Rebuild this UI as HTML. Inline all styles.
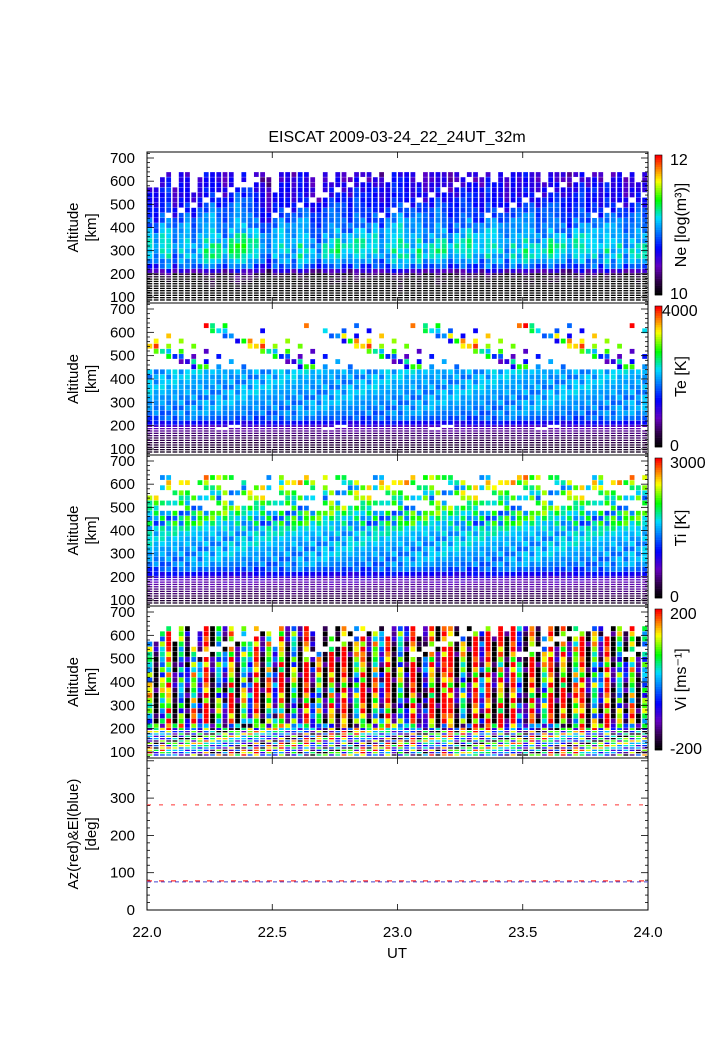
<!DOCTYPE html>
<html><head><meta charset="utf-8"><style>
html,body{margin:0;padding:0;background:#fff;}
svg{display:block;font-family:"Liberation Sans",Arial,sans-serif;}
</style></head><body>
<svg id="fig" width="708" height="1063" viewBox="0 0 708 1063">
<text x="397" y="142" font-size="16" text-anchor="middle">EISCAT 2009-03-24_22_24UT_32m</text>
</svg>
<script>
// ---- data arrays ----
const timeStart = 22.0, timeEnd = 24.0;
const nCols = 80;
const gateAlts = [85,95,105,115,125,135,145,155,165,175,185,195,210,232,254,276,298,320,342,364,386,408,430,452,474,496,518,540,562,584,606,628];
const colTop = [580,580,640,640,580,640,640,560,620,640,640,640,640,640,580,640,580,640,640,640,560,640,640,640,640,640,620,520,640,600,640,640,620,640,640,640,640,640,600,640,640,640,640,600,640,640,640,640,640,640,620,640,640,640,640,600,640,620,640,640,640,640,640,600,640,640,640,640,640,640,620,640,640,600,640,640,620,640,600,640];
const neProfile = [9.7,9.7,9.75,9.8,9.8,9.85,9.85,9.9,9.95,10.0,10.05,10.15,10.45,10.8,10.95,11.05,11.1,11.1,11.05,11.0,10.95,10.9,10.85,10.8,10.75,10.7,10.65,10.6,10.6,10.55,10.5,10.5];
const teProfile = [150,200,250,300,350,400,450,500,550,650,750,900,1300,1700,1850,1900,1950,1950,2000,2000,2000,2000,2050,2100,2200,2300,2400,2500,2500,2600,2600,2700];
const tiProfile = [150,200,250,300,350,400,450,500,550,600,650,750,950,1250,1400,1450,1500,1500,1550,1550,1600,1650,1700,1750,1800,1850,1900,1950,2000,2050,2100,2150];
const viColBase = [60,-200,40,150,-200,20,-150,100,-80,200,-200,30,-100,150,-200,60,-40,200,-200,100,-60,150,-200,40,-200,200,-120,80,-200,150,-200,200,-200,60,180,-200,100,-80,200,-200,40,-150,200,-200,-100,150,-200,200,200,-200,60,-200,200,-80,200,-200,150,-200,200,-40,-200,180,-200,60,200,-200,150,-200,100,200,-200,60,-100,200,-200,40,-150,100,-200,20];
const neColShift = [0,-0.1,0.05,0.1,-0.15,0,0.05,-0.1,0,0.1,0.15,0.05,-0.05,0.1,0.2,0.15,0.1,0.05,-0.1,-0.2,0,0.05,0,-0.05,0.1,0.05,-0.1,-0.15,0,0.05,0.1,0,-0.05,0.1,0.05,0,0.05,-0.1,0,0.1,0.15,0.05,0,0.1,-0.05,0,0.1,0.05,-0.1,0,0.05,0.1,0,-0.05,0.1,0.05,0,-0.1,0.05,0,0.1,0.05,-0.05,0,0.1,0.05,0,-0.1,0.05,0.1,0,0.05,-0.05,0.1,0,0.05,-0.1,0,0.05,0];
const jitter = [0.12,-0.2,0.05,0.3,-0.1,-0.35,0.18,0.0,-0.15,0.25,-0.05,0.1,-0.28,0.2,-0.08,0.15,-0.22];
const altTicks = [100,200,300,400,500,600,700];
const angTicks = [0,100,200,300];
const timeTicks = ["22.0","22.5","23.0","23.5","24.0"];
const azValue = 282, elValue = 78;

// ---- layout ----
const L = 147, R = 648;
const panels = [{t:152,b:303},{t:303,b:455},{t:455,b:606},{t:606,b:758}];
const P5 = {t:758,b:910};
const svg = document.getElementById('fig');
const NS = 'http://www.w3.org/2000/svg';
function mk(tag, at, parent){const e=document.createElementNS(NS,tag);for(const k in at)e.setAttribute(k,at[k]);(parent||svg).appendChild(e);return e;}
function xScale(t){return L+(t-timeStart)/(timeEnd-timeStart)*(R-L);}
function altScale(p,a){return (p.b-6)-(a-100)/600*((p.b-6)-(p.t+6));}
const stops=[[0,0,0,0],[0.1,50,0,80],[0.2,100,0,190],[0.33,0,0,255],[0.55,0,220,255],[0.68,0,255,0],[0.82,255,255,0],[1,255,0,0]];
function cmap(f){f=Math.max(0,Math.min(1,f));for(let i=1;i<stops.length;i++){if(f<=stops[i][0]){const a=stops[i-1],b=stops[i],u=(f-a[0])/(b[0]-a[0]);return `rgb(${Math.round(a[1]+u*(b[1]-a[1]))},${Math.round(a[2]+u*(b[2]-a[2]))},${Math.round(a[3]+u*(b[3]-a[3]))})`;}}return 'rgb(255,0,0)';}

const colW = (R-L)/nCols;
function cellEdges(p,g){
  const a=gateAlts[g];
  const lo = g===0?a-5:(gateAlts[g-1]+a)/2;
  const hi = g===gateAlts.length-1?a+11:(gateAlts[g+1]+a)/2;
  return [altScale(p,hi),altScale(p,lo)];
}
function drawPanel(pi, name, valFn, vmin, vmax){
  const p=panels[pi];
  const grp=mk('g',{});
  
  
  for(let c=0;c<nCols;c++){
    const x=L+c*colW+0.5;
    for(let g=0;g<gateAlts.length;g++){
      if(gateAlts[g]>colTop[c]) continue;
      const v=valFn(c,g);
      if(v===null) continue;
      const [y1,y2]=cellEdges(p,g);
      const gap = gateAlts[g]<200?1:0.3;
      const r=mk('rect',{x:x.toFixed(2),y:y1.toFixed(2),width:(colW-1.5).toFixed(2),height:Math.max(0.8,y2-y1-gap).toFixed(2),fill:cmap((v-vmin)/(vmax-vmin))},grp);
      
      
    }
  }
}
function jt(c,g){return jitter[(c*7+g*3)%jitter.length];}
drawPanel(0,'ne',(c,g)=>{ if(gateAlts[g]>430 && jt(c,g)<-0.3) return null; return neProfile[g]+neColShift[c]+jt(c,g)*0.4;},10,12);
drawPanel(1,'te',(c,g)=>{ const a=gateAlts[g]; if(a>450 && jt(c,g+c)<0.15) return null; if(a>180&&a<200&&jt(c,g)<-0.25) return null; return teProfile[g]*(1+jt(c,g)*(a>450?1.8:0.4));},0,4000);
drawPanel(2,'ti',(c,g)=>{ const a=gateAlts[g]; if(a>480 && jt(c,g+2*c)<-0.05) return null; return tiProfile[g]*(1+jt(c,g)*(a>420?1.0:0.45));},0,3000);
drawPanel(3,'vi',(c,g)=>{ const a=gateAlts[g]; if(a>500 && jt(c+1,g)<-0.25) return null; const j=jt(c,g); return a<220? viColBase[c]*0.3+j*600 : viColBase[c]+j*350;},-200,200);

// ---- axes frames ----
function frame(p,name){
  const r=mk('rect',{x:L,y:p.t,width:R-L,height:p.b-p.t,fill:'none',stroke:'#000','stroke-width':1});
  
  
}
const panelNames=['ne','te','ti','vi'];
panels.forEach((p,i)=>{
  frame(p,panelNames[i]);
  for(let a=80;a<=720;a+=20){
    const y=altScale(p,a); if(y<p.t||y>p.b) continue;
    const len=a%100===0?7:3;
    mk('line',{x1:L,x2:L+len,y1:y,y2:y,stroke:'#000','stroke-width':0.8});
    mk('line',{x1:R,x2:R-len,y1:y,y2:y,stroke:'#000','stroke-width':0.8});
  }
  altTicks.forEach(a=>{
    const t=mk('text',{x:135,y:altScale(p,a)+5,'font-size':15,'text-anchor':'end'});
    t.textContent=a;
    
    
  });
  const yl=mk('text',{transform:`translate(78,${(p.t+p.b)/2}) rotate(-90)`,'font-size':15,'text-anchor':'middle'});
  yl.textContent='Altitude';
  
  
  const yl2=mk('text',{transform:`translate(96,${(p.t+p.b)/2}) rotate(-90)`,'font-size':15,'text-anchor':'middle'});
  yl2.textContent='[km]';
  
  
});
frame(P5,'angle');
function angScale(v){return P5.b-v/100*37.3;}
for(let v=0;v<=400;v+=20){const y=angScale(v);if(y<P5.t)continue;const len=v%100===0?7:3;
  mk('line',{x1:L,x2:L+len,y1:y,y2:y,stroke:'#000','stroke-width':0.8});
  mk('line',{x1:R,x2:R-len,y1:y,y2:y,stroke:'#000','stroke-width':0.8});}
angTicks.forEach(v=>{const t=mk('text',{x:135,y:angScale(v)+5,'font-size':15,'text-anchor':'end'});t.textContent=v;
  
  });
const az=mk('line',{x1:L,x2:R,y1:angScale(azValue),y2:angScale(azValue),stroke:'#f33','stroke-width':1,'stroke-dasharray':'4 8'});


const el=mk('line',{x1:L,x2:R,y1:angScale(elValue)+1,y2:angScale(elValue)+1,stroke:'#44c','stroke-width':1,'stroke-dasharray':'4 3'});


const az2=mk('line',{x1:L,x2:R,y1:angScale(elValue),y2:angScale(elValue),stroke:'#f33','stroke-width':1.2,'stroke-dasharray':'5 7'});


[['Az(red)&El(blue)',78],['[deg]',96]].forEach(([s,x])=>{const t=mk('text',{transform:`translate(${x},${(P5.t+P5.b)/2}) rotate(-90)`,'font-size':15,'text-anchor':'middle'});t.textContent=s;
  
  });

// x ticks
timeTicks.forEach(s=>{const x=xScale(parseFloat(s));
  [...panels,P5].forEach(p=>{mk('line',{x1:x,x2:x,y1:p.b,y2:p.b-6,stroke:'#000','stroke-width':0.8});mk('line',{x1:x,x2:x,y1:p.t,y2:p.t+6,stroke:'#000','stroke-width':0.8});});
  const t=mk('text',{x:x,y:937,'font-size':15,'text-anchor':'middle'});t.textContent=s;
  
  });
const ut=mk('text',{x:397,y:958,'font-size':15,'text-anchor':'middle'});ut.textContent='UT';



// colorbars
const cbars=[{lab:'Ne [log(m³)]',hi:'12',lo:'10',name:'ne'},{lab:'Te [K]',hi:'4000',lo:'0',name:'te'},{lab:'Ti [K]',hi:'3000',lo:'0',name:'ti'},{lab:'Vi [ms⁻¹]',hi:'200',lo:'-200',name:'vi'}];
panels.forEach((p,i)=>{
  const cb=cbars[i]; const y0=p.t+3,y1=p.b-8, n=60;
  const g=mk('g',{});
  
  
  for(let k=0;k<n;k++){mk('rect',{x:655,y:(y1-(k+1)*(y1-y0)/n).toFixed(2),width:7,height:((y1-y0)/n+0.3).toFixed(2),fill:cmap(k/(n-1))},g);}
  mk('rect',{x:655,y:y0,width:7,height:y1-y0,fill:'none',stroke:'#000','stroke-width':0.6},g);
  const th=mk('text',{x:i===1?662:670,y:y0+10,'font-size':16},g);th.textContent=cb.hi;
  const tl=mk('text',{x:670,y:y1+4,'font-size':16},g);tl.textContent=cb.lo;
  const lb=mk('text',{transform:`translate(686,${(y0+y1)/2}) rotate(-90)`,'font-size':16,'text-anchor':'middle'},g);lb.textContent=cb.lab;
});
</script>
</body></html>
